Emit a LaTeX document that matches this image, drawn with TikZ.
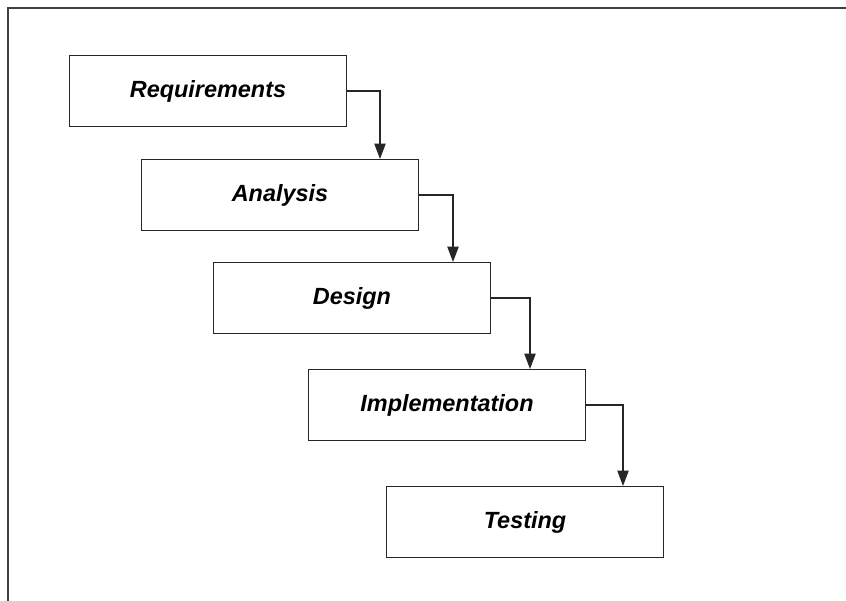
\documentclass[tikz,border=0pt]{standalone}
\usepackage{fontspec}
\setmainfont{Liberation Sans}
\usetikzlibrary{arrows.meta, calc}

\tikzset{
    phase/.style={draw=black!85, line width=0.9pt, minimum width=8.31cm, minimum height=2.13cm,
        inner sep=0pt, font=\fontsize{20}{24}\selectfont\bfseries\itshape},
    flow/.style={draw=black!85, line width=0.9pt, -{Triangle[length=0.46cm, width=0.34cm]}}
}

\begin{document}
\begin{tikzpicture}[x=0.03cm, y=-0.03cm]
        \useasboundingbox (0,0) rectangle (846,601);
        % frame, only top and left edges visible
        \draw[black!75, line width=1.4pt] (8,601) -- (8,8) -- (846,8);

        % phases
        \node[phase] (req) at (208,91)  {Requirements};
        \node[phase] (ana) at (280,195) {Analysis};
        \node[phase] (des) at (352,298) {Design};
        \node[phase] (imp) at (447,405) {Implementation};
        \node[phase] (tst) at (525,522) {Testing};

        % steps down
        \draw[flow] (req.east) -| ([xshift=3cm]ana.north);
        \draw[flow] (ana.east) -| ([xshift=3.03cm]des.north);
        \draw[flow] (des.east) -| ([xshift=2.49cm]imp.north);
        \draw[flow] (imp.east) -| ([xshift=2.94cm]tst.north);
    \end{tikzpicture}
\end{document}
